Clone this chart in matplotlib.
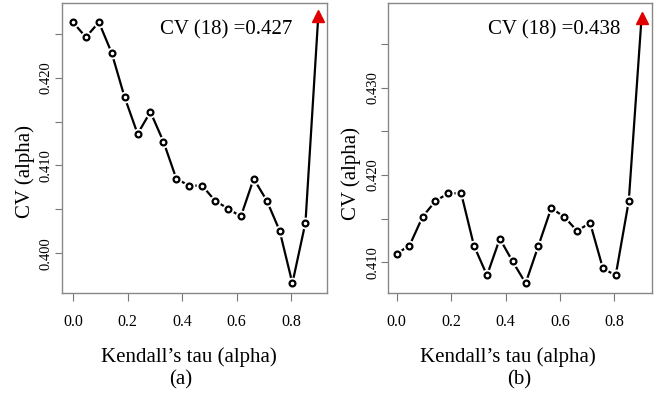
import matplotlib.pyplot as plt

plt.rcParams['font.family'] = ['Liberation Serif', 'DejaVu Serif']

# Kendall's tau grid (x) and the CV values of both panels
tau = [0.0, 0.047, 0.095, 0.142, 0.189, 0.237, 0.284, 0.332, 0.379, 0.426,
       0.474, 0.521, 0.568, 0.616, 0.663, 0.711, 0.758, 0.805, 0.853, 0.9]
cv_a = [0.4263, 0.4246, 0.4263, 0.4228, 0.4178, 0.4136, 0.4161, 0.4127, 0.4085, 0.4077,
        0.4077, 0.4060, 0.4051, 0.4042, 0.4085, 0.4060, 0.4026, 0.3966, 0.4035, 0.427]
cv_b = [0.4110, 0.4119, 0.4152, 0.4170, 0.4179, 0.4179, 0.4119, 0.4085, 0.4127, 0.4101,
        0.4076, 0.4119, 0.4162, 0.4152, 0.4136, 0.4145, 0.4093, 0.4085, 0.4170, 0.438]
best_label_a = "CV (18) =0.427"
best_label_b = "CV (18) =0.438"
xticks = [0.0, 0.2, 0.4, 0.6, 0.8]
yticks_a = [0.400, 0.405, 0.410, 0.415, 0.420, 0.425]
yticks_b = [0.410, 0.415, 0.420, 0.425, 0.430, 0.435]

fig = plt.figure(figsize=(6.57, 3.96), dpi=100)
ax_a = fig.add_axes([0.0944, 0.2601, 0.4033, 0.7323])
ax_b = fig.add_axes([0.5910, 0.2601, 0.4010, 0.7323])


def draw_panel(ax, y, yticks, label, xlim, ylim, text_x):
    # line with gaps round the points, like R type="b"
    ax.plot(tau, y, color='black', lw=1.6, zorder=2)
    ax.plot(tau[:-1], y[:-1], 'o', ms=8.5, mfc='white', mec='none', zorder=3)
    ax.plot(tau[:-1], y[:-1], 'o', ms=4.2, mfc='white', mec='black', mew=1.6, zorder=4)
    ax.plot(tau[-1], y[-1], '^', ms=9, color='#e00000', zorder=5, clip_on=False)
    ax.text(text_x, 0.94, label, transform=ax.transAxes, ha='center', va='top', fontsize=15)

    ax.set_xlim(xlim)
    ax.set_ylim(ylim)
    ax.set_xticks(xticks)
    ax.set_xticklabels(['%.1f' % t for t in xticks])
    ax.set_yticks(yticks)
    ax.set_yticklabels(['%.3f' % t if round(t * 1000) % 10 == 0 else '' for t in yticks])
    ax.tick_params(axis='both', direction='out', width=0.8, color='#777777')
    ax.tick_params(axis='x', length=6, pad=9, labelsize=11.5)
    ax.tick_params(axis='y', length=5, pad=1.5, labelsize=10.5)
    for t in ax.get_yticklabels():
        t.set_rotation(90)
        t.set_va('center')
    for s in ax.spines.values():
        s.set_color('#888888')
        s.set_linewidth(1.0)


draw_panel(ax_a, cv_a, yticks_a, best_label_a, (-0.0404, 0.932), (0.39549, 0.42849), 0.621)
draw_panel(ax_b, cv_b, yticks_b, best_label_b, (-0.0309, 0.9375), (0.40648, 0.43970), 0.629)

fig.text(25 / 657, 1 - 171 / 396, "CV (alpha)", rotation=90, ha='center', va='center', fontsize=15)
fig.text(351 / 657, 1 - 173 / 396, "CV (alpha)", rotation=90, ha='center', va='center', fontsize=15)
fig.text(189 / 657, 1 - 357 / 396, "Kendall\u2019s tau (alpha)", ha='center', va='center', fontsize=15)
fig.text(181 / 657, 1 - 380 / 396, "(a)", ha='center', va='center', fontsize=15)
fig.text(508 / 657, 1 - 357 / 396, "Kendall\u2019s tau (alpha)", ha='center', va='center', fontsize=15)
fig.text(519 / 657, 1 - 380 / 396, "(b)", ha='center', va='center', fontsize=15)

fig.savefig('out.png', dpi=100)
